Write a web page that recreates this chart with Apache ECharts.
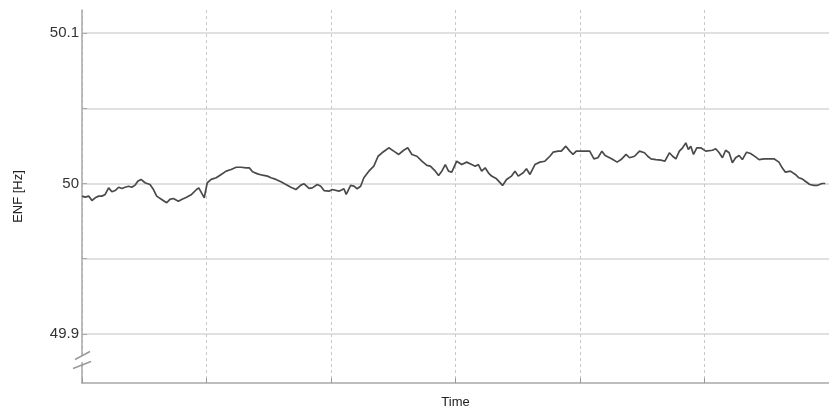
<!DOCTYPE html>
<html>
<head>
<meta charset="utf-8">
<script src="https://cdn.jsdelivr.net/npm/echarts@6/dist/echarts.min.js"></script>
<style>html,body{margin:0;padding:0;background:#fff}#c{width:829px;height:417px}</style>
</head>
<body>
<div id="c"></div>
<script>
var timeValues = [0,2.6,5.4,8,10.6,13.4,16,18.6,21.4,24,26.6,29.4,32,34.6,37.4,40,42.6,44.8,47.4,50.6,54.6,57.4,60,64,68,70.6,73.4,77.4,80,84,88,92,93.8,96,98.2,
100.6,103.8,107.8,111.8,115.8,119.8,123.8,127.8,131.8,134.4,137,141,145,149,151.8,155.8,159.8,163.8,167.8,171.8,175.8,178.4,182.4,185,189,191.8,194.4,198.4,201,
202.4,206.4,210.4,212.2,215.8,218.4,221,223.8,226.4,230.4,234.4,237.8,241,243.8,246.4,250.4,254.4,258.4,261.6,265,269,273,277,279.8,283.8,286.4,289,291.8,294.4,297,301,
305,309,313,315.8,318.4,321,323.8,326.4,329,333,337.8,341,345,347.8,350.4,354.4,357,359.8,363.8,367.8,371.8,375.8,378.4,382.4,385,388.6,391.8,394.4,397,401,
403.8,407.8,411.2,414.4,417.6,420.2,423.8,426.4,429.8,433,437,439.8,443.8,447.8,451.8,454.4,457,461,465,468.2,471.8,474.4,477,479.8,482.4,485,487,489,491.2,493.8,497,501,
502.4,506.4,509,511.8,514.4,517,519.8,522.4,525,527.8,530.4,533.8,537,541,543.8,547.8,551.8,555.8,559.8,562.4,565,569,573,575.8,578.4,581,584.6,587.8,590.4,594.4,597];
var enfValues = [49.9916,49.9909,49.9916,49.9887,49.9905,49.9916,49.9916,49.9927,49.9971,49.9945,49.9953,49.9975,49.9967,49.9975,49.9982,49.9975,49.9989,50.0015,50.0027,50.0005,49.9993,49.9960,49.9916,49.9894,49.9872,49.9894,49.9900,49.9882,49.9894,49.9909,49.9927,49.9960,49.9971,49.9938,49.9905,
50.0005,50.0027,50.0038,50.0060,50.0082,50.0093,50.0108,50.0108,50.0104,50.0104,50.0078,50.0064,50.0055,50.0049,50.0038,50.0027,50.0011,49.9993,49.9975,49.9960,49.9989,49.9998,49.9967,49.9971,49.9993,49.9982,49.9953,49.9949,49.9960,
49.9949,49.9949,49.9965,49.9927,49.9987,49.9982,49.9965,49.9982,50.0038,50.0082,50.0115,50.0181,50.0204,50.0221,50.0237,50.0215,50.0193,50.0221,50.0237,50.0193,50.0181,50.0148,50.0120,50.0115,50.0082,50.0053,50.0082,50.0126,50.0082,50.0075,50.0148,
50.0126,50.0142,50.0126,50.0115,50.0126,50.0082,50.0104,50.0071,50.0049,50.0031,49.9987,50.0027,50.0049,50.0082,50.0049,50.0071,50.0098,50.0060,50.0126,50.0142,50.0148,50.0181,50.0208,50.0215,50.0215,50.0248,50.0215,50.0193,50.0215,50.0215,
50.0215,50.0215,50.0164,50.0171,50.0215,50.0186,50.0171,50.0159,50.0142,50.0159,50.0193,50.0171,50.0181,50.0215,50.0204,50.0181,50.0164,50.0159,50.0155,50.0148,50.0204,50.0181,50.0164,50.0215,50.0237,50.0270,50.0226,50.0248,50.0193,50.0237,50.0237,50.0215,
50.0215,50.0221,50.0231,50.0204,50.0171,50.0221,50.0204,50.0138,50.0171,50.0186,50.0159,50.0208,50.0199,50.0177,50.0159,50.0164,50.0164,50.0164,50.0142,50.0104,50.0075,50.0082,50.0060,50.0038,50.0031,50.0015,49.9993,49.9987,49.9987,50.0000,50.0000];
var yLabelValues = [49.9, 50, 50.1];
var yGridValues = [49.9, 49.95, 50, 50.05, 50.1];
var yRange = [49.8674, 50.1153];
var xRange = [0, 600];
var xStep = 100;
var breakValue = 49.883;

var data = timeValues.map(function (t, i) { return [t, enfValues[i]]; });
var chart = echarts.init(document.getElementById('c'), null, {renderer: 'canvas'});
var font = 'Liberation Sans, Arial, sans-serif';
chart.setOption({
  animation: false,
  grid: {left: 82, top: 10, width: 750, height: 373, containLabel: false},
  xAxis: {
    type: 'value', min: xRange[0], max: xRange[1], interval: xStep,
    name: 'Time', nameLocation: 'middle', nameGap: 13,
    nameTextStyle: {fontFamily: font, fontSize: 13, color: '#222'},
    axisLine: {show: true, onZero: false, lineStyle: {color: '#a8a8a8', width: 1.5}},
    axisTick: {show: true, inside: true, length: 5, lineStyle: {color: '#999'}},
    axisLabel: {show: false},
    splitLine: {show: true, lineStyle: {color: '#c8c8c8', type: [3, 3], width: 1}}
  },
  yAxis: {
    type: 'value', min: yRange[0], max: yRange[1],
    name: 'ENF [Hz]', nameLocation: 'middle', nameGap: 57, nameRotate: 90,
    nameTextStyle: {fontFamily: font, fontSize: 13, color: '#222'},
    axisLine: {show: true, lineStyle: {color: '#a8a8a8', width: 1.5}},
    axisTick: {show: true, inside: true, length: 5, customValues: yGridValues, lineStyle: {color: '#aaa'}},
    axisLabel: {show: true, customValues: yLabelValues, margin: 3, fontFamily: font, fontSize: 15, color: '#333',
      formatter: function (v) { return String(Math.round(v * 10) / 10); }},
    splitLine: {show: true, lineStyle: {color: '#d6d6d6', width: 1.5}}
  },
  series: [{
    type: 'line', data: data, showSymbol: false, symbol: 'none',
    lineStyle: {color: '#4a4a4a', width: 1.7}, clip: true
  }]
});
var p = chart.convertToPixel({gridIndex: 0}, [0, breakValue]);
var bx = p[0], by = p[1];
chart.setOption({
  graphic: [
    {type: 'polygon', shape: {points: [[bx - 9, by + 6], [bx + 9, by - 1], [bx + 9, by - 8], [bx - 9, by - 1]]}, style: {fill: '#fff'}, z: 100},
    {type: 'line', shape: {x1: bx - 9, y1: by + 9, x2: bx + 9, y2: by + 2}, style: {stroke: '#999', lineWidth: 1.5}, z: 101},
    {type: 'line', shape: {x1: bx - 7, y1: by, x2: bx + 8, y2: by - 8}, style: {stroke: '#999', lineWidth: 1.5}, z: 101}
  ]
});
</script>
</body>
</html>
